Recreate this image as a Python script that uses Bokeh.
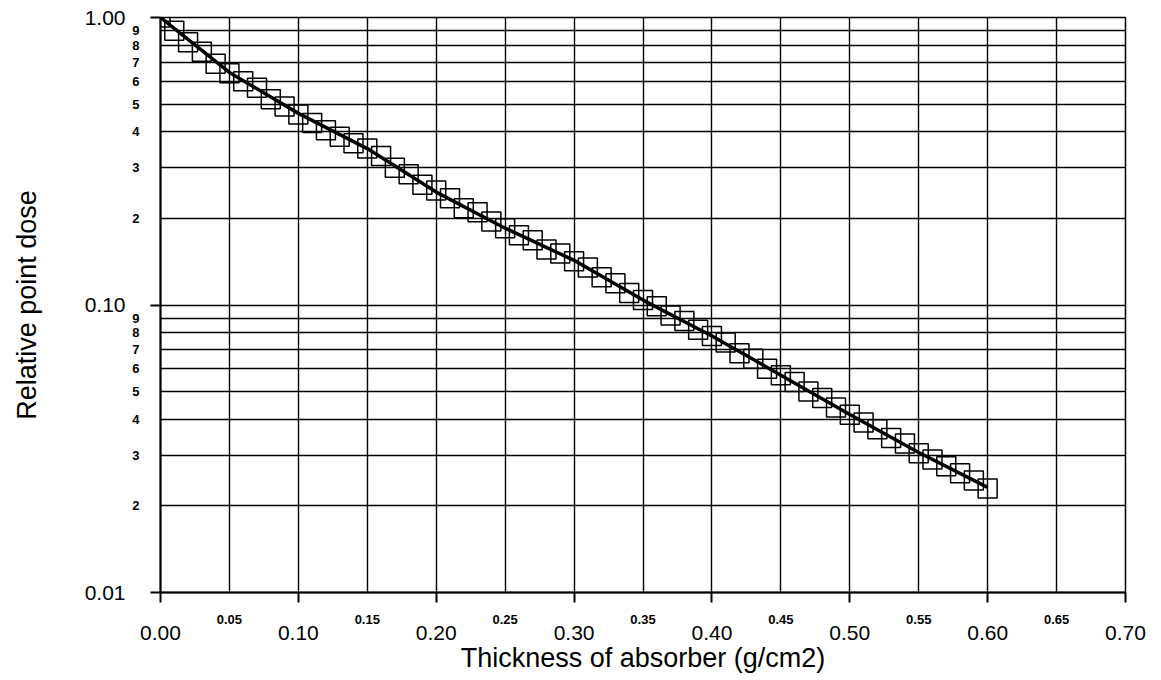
from bokeh.plotting import figure
from bokeh.models import (Range1d, FixedTicker, LinearAxis, LogAxis,
                          PrintfTickFormatter)
from bokeh.embed import file_html
from bokeh.resources import INLINE

# Measured relative point dose vs. absorber thickness (g/cm2)
thickness = [0.00, 0.01, 0.02, 0.03, 0.04, 0.05, 0.06, 0.07, 0.08, 0.09,
             0.10, 0.11, 0.12, 0.13, 0.14, 0.15, 0.16, 0.17, 0.18, 0.19,
             0.20, 0.21, 0.22, 0.23, 0.24, 0.25, 0.26, 0.27, 0.28, 0.29,
             0.30, 0.31, 0.32, 0.33, 0.34, 0.35, 0.36, 0.37, 0.38, 0.39,
             0.40, 0.41, 0.42, 0.43, 0.44, 0.45, 0.46, 0.47, 0.48, 0.49,
             0.50, 0.51, 0.52, 0.53, 0.54, 0.55, 0.56, 0.57, 0.58, 0.59,
             0.60]
dose = [1.000, 0.900, 0.820, 0.760, 0.690, 0.640, 0.600, 0.570, 0.520, 0.490,
        0.460, 0.430, 0.405, 0.385, 0.365, 0.350, 0.330, 0.300, 0.285, 0.262,
        0.250, 0.235, 0.217, 0.210, 0.195, 0.185, 0.175, 0.168, 0.156, 0.151,
        0.142, 0.135, 0.125, 0.119, 0.110, 0.104, 0.099, 0.092, 0.088, 0.082,
        0.078, 0.074, 0.068, 0.065, 0.060, 0.057, 0.054, 0.050, 0.0475, 0.044,
        0.0415, 0.039, 0.037, 0.0345, 0.033, 0.0305, 0.029, 0.0275, 0.026, 0.0245,
        0.023]

# Smooth curve drawn through the measurements
curve_x = [0.00, 0.05, 0.10, 0.15, 0.20, 0.25, 0.30, 0.35, 0.40, 0.45, 0.50, 0.55, 0.60]
curve_y = [1.000, 0.644, 0.464, 0.350, 0.247, 0.185, 0.143, 0.104, 0.078, 0.057, 0.0416, 0.0307, 0.0232]

# Tick values and labels
x_major = [0.00, 0.10, 0.20, 0.30, 0.40, 0.50, 0.60, 0.70]
x_minor = [0.05, 0.15, 0.25, 0.35, 0.45, 0.55, 0.65]
y_major = [0.01, 0.10, 1.00]
y_minor = [0.02, 0.03, 0.04, 0.05, 0.06, 0.07, 0.08, 0.09,
           0.2, 0.3, 0.4, 0.5, 0.6, 0.7, 0.8, 0.9]
y_minor_labels = ["2", "3", "4", "5", "6", "7", "8", "9",
                  "2", "3", "4", "5", "6", "7", "8", "9"]

FONT = "Liberation Sans"

p = figure(width=1161, height=680, y_axis_type="log",
           x_range=Range1d(0.0, 0.70), y_range=Range1d(0.01, 1.0),
           output_backend="svg", toolbar_location=None,
           min_border_left=160, min_border_right=36,
           min_border_top=17, min_border_bottom=88)
p.background_fill_color = "white"
p.border_fill_color = "white"
p.outline_line_color = "black"
p.outline_line_width = 1.5

# Grid: every 0.05 in x, every decade subdivision in y
p.xgrid.ticker = FixedTicker(ticks=sorted(x_major + x_minor))
p.ygrid.ticker = FixedTicker(ticks=sorted(y_major + y_minor))
for g in (p.xgrid, p.ygrid):
    g.grid_line_color = "black"
    g.grid_line_width = 1.4
    g.grid_line_alpha = 1.0

# Inner x axis: small bold labels at the half steps, ticks at whole steps
xin = p.xaxis[0]
xin.ticker = FixedTicker(ticks=x_minor, minor_ticks=x_major)
xin.formatter = PrintfTickFormatter(format="%.2f")
xin.major_tick_out = 0
xin.major_tick_in = 0
xin.minor_tick_out = 10
xin.minor_tick_in = 0
xin.minor_tick_line_color = "black"
xin.minor_tick_line_width = 2
xin.axis_line_color = "black"
xin.axis_line_width = 2
xin.major_label_standoff = 12
xin.major_label_text_font = FONT
xin.major_label_text_font_style = "bold"
xin.major_label_text_font_size = "13px"
xin.major_label_text_color = "black"

# Outer x axis: main labels and title
xout = LinearAxis(ticker=FixedTicker(ticks=x_major, minor_ticks=[]),
                  formatter=PrintfTickFormatter(format="%.2f"))
xout.axis_line_color = None
xout.major_tick_line_color = None
xout.minor_tick_line_color = None
xout.major_tick_out = 0
xout.major_tick_in = 0
xout.major_label_standoff = -1
xout.major_label_text_font = FONT
xout.major_label_text_font_size = "21px"
xout.major_label_text_color = "black"
xout.axis_label = "Thickness of absorber (g/cm2)"
xout.axis_label_text_font = FONT
xout.axis_label_text_font_size = "27px"
xout.axis_label_text_font_style = "normal"
xout.axis_label_text_color = "black"
xout.axis_label_standoff = 0
p.add_layout(xout, "below")

# Inner y axis: decade subdivision digits
yin = p.yaxis[0]
yin.ticker = FixedTicker(ticks=y_minor, minor_ticks=y_major)
yin.major_label_overrides = {v: s for v, s in zip(y_minor, y_minor_labels)}
yin.major_tick_out = 0
yin.major_tick_in = 0
yin.minor_tick_out = 10
yin.minor_tick_in = 0
yin.minor_tick_line_color = "black"
yin.minor_tick_line_width = 2
yin.axis_line_color = "black"
yin.axis_line_width = 2
yin.major_label_standoff = 11
yin.major_label_text_font = FONT
yin.major_label_text_font_style = "bold"
yin.major_label_text_font_size = "13px"
yin.major_label_text_color = "black"

# Outer y axis: decade labels and title
yout = LogAxis(ticker=FixedTicker(ticks=y_major, minor_ticks=[]),
               formatter=PrintfTickFormatter(format="%.2f"))
yout.axis_line_color = None
yout.major_tick_line_color = None
yout.minor_tick_line_color = None
yout.major_tick_out = 0
yout.major_tick_in = 0
yout.major_label_standoff = 4
yout.major_label_text_font = FONT
yout.major_label_text_font_size = "21px"
yout.major_label_text_color = "black"
yout.axis_label = "Relative point dose"
yout.axis_label_text_font = FONT
yout.axis_label_text_font_size = "27px"
yout.axis_label_text_font_style = "normal"
yout.axis_label_text_color = "black"
yout.axis_label_standoff = 40
p.add_layout(yout, "left")

# Measurements as open squares, with the curve drawn over them
p.scatter(thickness, dose, marker="square", size=19,
          fill_color=None, line_color="black", line_width=1.5)
p.line(curve_x, curve_y, line_color="black", line_width=3.5)

open("out.html", "w").write(file_html(p, INLINE))
